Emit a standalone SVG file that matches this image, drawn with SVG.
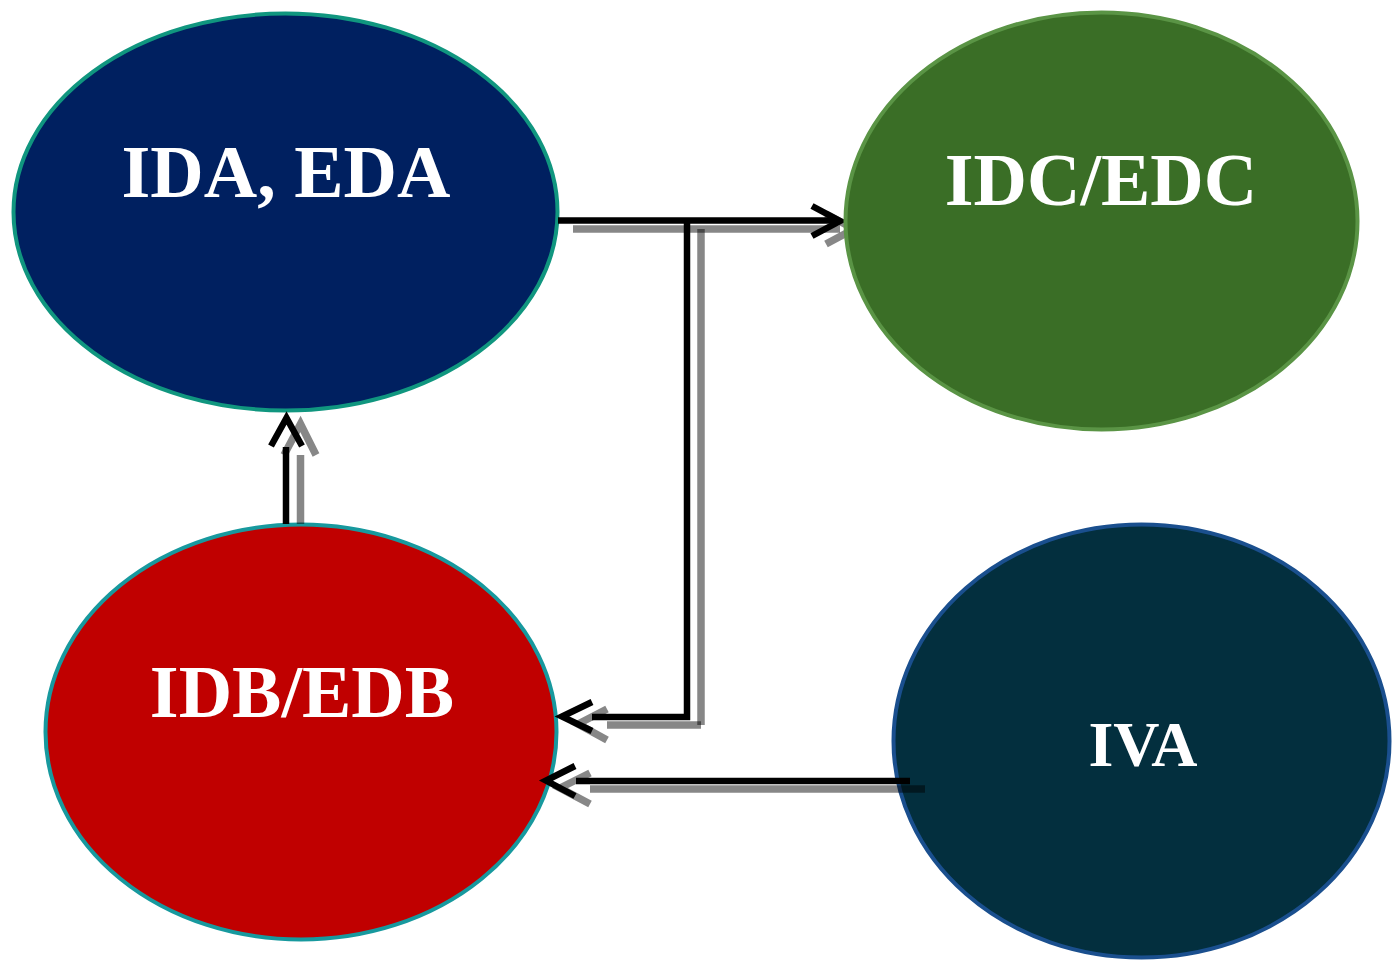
<svg xmlns="http://www.w3.org/2000/svg" width="1393" height="966" viewBox="0 0 1393 966">
<style>
.lbl{font-family:"Liberation Serif","Times New Roman",serif;font-weight:bold;fill:#fff;text-anchor:middle}
.ln{fill:none;stroke:#000;stroke-width:6.5;stroke-linecap:butt;stroke-linejoin:miter}
.sh{fill:none;stroke:#000;stroke-opacity:.47;stroke-width:7.5;stroke-linecap:butt}
</style>
<rect width="1393" height="966" fill="#fff"/>
<g id="node-ida">
<ellipse cx="285.5" cy="212" rx="272" ry="198.5" fill="#002060" stroke="#10967F" stroke-width="4"/>
<text class="lbl" x="286" y="197" font-size="74">IDA, EDA</text>
</g>
<g id="node-idb">
<ellipse cx="301" cy="732" rx="255.5" ry="207.5" fill="#C00000" stroke="#17999E" stroke-width="4"/>
<text class="lbl" x="302" y="717" font-size="74">IDB/EDB</text>
</g>
<g id="node-iva">
<ellipse cx="1141.5" cy="741" rx="248" ry="216.5" fill="#032F3E" stroke="#1A4F8E" stroke-width="4"/>
<text class="lbl" x="1143" y="766" font-size="64">IVA</text>
</g>
<g id="connectors">
<line class="sh" x1="573" y1="229" x2="840" y2="229"/>
<polyline class="sh" points="826,214 854,229 826,244"/>
<line class="sh" x1="701" y1="229" x2="701" y2="725"/>
<line class="sh" x1="701" y1="725" x2="607" y2="725"/>
<polyline class="sh" points="607,709 578,724 607,740"/>
<line class="sh" x1="925" y1="789" x2="590" y2="789"/>
<polyline class="sh" points="590,773 560,788 590,804"/>
<line class="sh" x1="300.5" y1="524" x2="300.5" y2="455"/>
<polyline class="sh" points="284,455 300.5,424 316,455"/>
<line class="ln" x1="558" y1="220.5" x2="838" y2="220.5"/>
<polyline class="ln" points="812,206 840,221 812,236"/>
<polyline class="ln" points="687,220.5 687,717 592,717"/>
<polyline class="ln" points="592,702 562,716.5 592,731"/>
<line class="ln" x1="910" y1="781" x2="576" y2="781"/>
<polyline class="ln" points="575,766 546,780.5 575,796"/>
<line class="ln" x1="286" y1="524" x2="286" y2="447"/>
<polyline class="ln" points="271,446 286.5,418 302,446"/>
</g>
<g id="node-idc">
<ellipse cx="1101.5" cy="221" rx="256" ry="208.5" fill="#3A6E26" stroke="#5A9445" stroke-width="4"/>
<text class="lbl" x="1101" y="205" font-size="74">IDC/EDC</text>
</g>
</svg>
